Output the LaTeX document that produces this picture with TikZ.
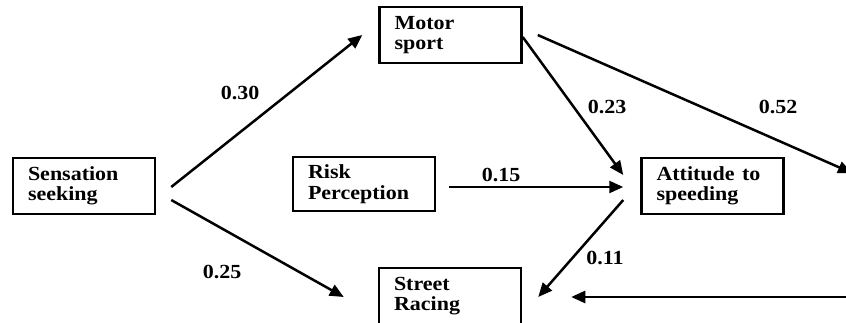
\documentclass[tikz,border=0pt]{standalone}
\usepackage{fontspec}
\setmainfont{Liberation Serif}
\usetikzlibrary{arrows.meta,calc}
\newcommand{\sx}[1]{\scalebox{1.1}[1]{#1}}
\tikzset{
  box/.style={draw, line width=2.5pt, minimum width=142pt, minimum height=56pt,
    text width=112pt, inner xsep=15pt, inner ysep=0pt, align=left,
    font=\fontsize{20}{20.5}\selectfont\bfseries},
  lbl/.style={font=\fontsize{20}{20.5}\selectfont\bfseries, inner sep=0pt},
  arr/.style={line width=2.5pt, -{Triangle[length=14pt,width=12pt]}}
}
\begin{document}
\begin{tikzpicture}[x=1pt,y=-1pt]
\useasboundingbox (0,0) rectangle (846,323);
\clip (0,0) rectangle (846,323);
\fill[white] (0,0) rectangle (846,323);
\node[box] (sens) at (84,186) {\sx{Sensation}\\\sx{seeking}};
\node[box] (motor) at (450.5,35) {\sx{Motor}\\\sx{sport}};
\node[box, minimum height=54pt] (risk) at (364,184) {\sx{Risk}\\\sx{Perception}};
\node[box] (att) at (712.5,186) {\sx{\makebox[98pt][s]{Attitude to}}\\\sx{speeding}};
\node[box] (street) at (450,296) {\sx{Street}\\\sx{Racing}};
\coordinate (out52) at (852,173);
\coordinate (inR) at (850,297);
\draw[arr] ($(sens.east)+(15,1)$) -- ($(motor.west)+(-16,0)$);
\draw[arr] ($(sens.east)+(15,14)$) -- ($(street.west)+(-34,1)$);
\draw[arr] ($(risk.east)+(13,3)$) -- ($(att.west)+(-17,1)$);
\draw[arr] ($(motor.east)+(0,2)$) -- ($(att.west)+(-17,-11)$);
\draw[arr] ($(motor.east)+(15,0)$) -- (out52);
\draw[arr] ($(att.west)+(-17,14)$) -- ($(street.east)+(16,1)$);
\draw[arr] (inR) -- ($(street.east)+(49,1)$);
\node[lbl] (l30) at (240,93) {\sx{0.30}};
\node[lbl] (l25) at (222,272) {\sx{0.25}};
\node[lbl] (l15) at (501,175) {\sx{0.15}};
\node[lbl] (l23) at (607,107) {\sx{0.23}};
\node[lbl] (l52) at (778,107) {\sx{0.52}};
\node[lbl] (l11) at (605,258) {\sx{0.11}};
\end{tikzpicture}
\end{document}
